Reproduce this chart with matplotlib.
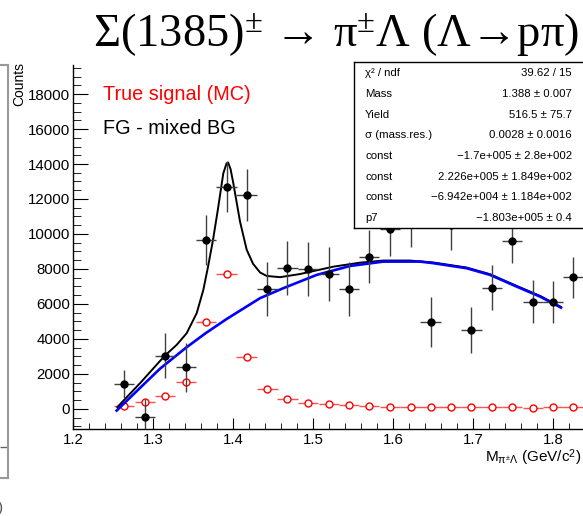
import numpy as np
import matplotlib
matplotlib.use("Agg")
import matplotlib.pyplot as plt
from matplotlib.ticker import MultipleLocator, FormatStrFormatter

# bin centres (GeV/c^2)
mass = [1.264, 1.290, 1.315, 1.341, 1.366, 1.392, 1.417, 1.443, 1.468, 1.494,
        1.520, 1.545, 1.570, 1.596, 1.622, 1.647, 1.672, 1.698, 1.724, 1.749,
        1.775, 1.800, 1.825]
half_bin = 0.0128

# FG - mixed BG
fg_counts = [1430, -440, 3040, 2370, 9650, 12700, 12230, 6840, 8030, 7980,
             7700, 6840, 8700, 10270, 10760, 4950, 10500, 4510, 6930, 9620,
             6130, 6130, 7520]
fg_err = [800, 1030, 1300, 1380, 1450, 1460, 1490, 1540, 1540, 1540,
          1540, 1540, 1510, 1520, 1500, 1430, 1430, 1330, 1300, 1260,
          1220, 1200, 1160]

# true signal (MC)
mc_counts = [190, 380, 740, 1560, 4950, 7700, 2950, 1120, 550, 320,
             270, 210, 170, 130, 130, 130, 100, 110, 110, 110,
             40, 100, 100]

# background fit (blue)
bg_x = [1.2546, 1.2838, 1.3088, 1.3413, 1.3659, 1.3921, 1.4338, 1.4629, 1.5046,
        1.5463, 1.5879, 1.6338, 1.6504, 1.6921, 1.7213, 1.7546, 1.7838, 1.810]
bg_y = [-97, 1200, 2300, 3500, 4330, 5140, 6330, 6900, 7660,
        8170, 8420, 8420, 8330, 8040, 7660, 6990, 6420, 5790]

# total fit (black)
fit_x = [1.2554, 1.2838, 1.3088, 1.3150, 1.3296, 1.3420, 1.3546, 1.3629, 1.3688,
         1.3750, 1.3810, 1.3879, 1.3920, 1.3940, 1.3970, 1.4004, 1.4088, 1.4171,
         1.4250, 1.4338, 1.4421, 1.4588, 1.4838, 1.5254, 1.5588, 1.5879, 1.6213,
         1.6504, 1.6921, 1.7213, 1.7546, 1.7838, 1.810]
fit_y = [100, 1470, 2740, 3050, 3660, 4320, 5470, 6800, 8130,
         9660, 11370, 13470, 14040, 14080, 13700, 12900, 10700, 9100,
         8300, 7800, 7600, 7530, 7710, 8130, 8360, 8480, 8480,
         8370, 8080, 7700, 7030, 6460, 5830]

stat_names = ["χ² / ndf", "Mass", "Yield", "σ (mass.res.)", "const", "const", "const", "p7"]
stat_values = ["39.62 / 15", "1.388 ± 0.007", "516.5 ± 75.7", "0.0028 ± 0.0016",
               "\u22121.7e+005 ± 2.8e+002", "2.226e+005 ± 1.849e+002",
               "\u22126.942e+004 ± 1.184e+002", "\u22121.803e+005 ± 0.4"]

plt.rcParams['font.family'] = ['Liberation Sans', 'DejaVu Sans']
plt.rcParams['mathtext.fontset'] = 'custom'
plt.rcParams['mathtext.rm'] = 'Liberation Serif'
plt.rcParams['mathtext.it'] = 'Liberation Serif'
plt.rcParams['mathtext.sf'] = 'Liberation Sans'

W, H = 583, 516
fig = plt.figure(figsize=(W / 100, H / 100), dpi=100)

# main pad
ax = fig.add_axes([73 / W, 1 - 429 / H, 516 / W, 364 / H])
ax.errorbar(mass, mc_counts, xerr=half_bin, fmt='o', mfc='white', mec='red',
            ecolor='#ff5050', ms=5, mew=1, elinewidth=1, zorder=2)
ax.plot(fit_x, fit_y, color='black', lw=1.4, zorder=3)
ax.plot(bg_x, bg_y, color='#0000ff', lw=1.9, zorder=4)
ax.errorbar(mass, fg_counts, xerr=half_bin, yerr=fg_err, fmt='o', color='black',
            ecolor='#404040', ms=5, elinewidth=1, capsize=0, zorder=5)

ax.set_xlim(1.2, 1.845)
ax.set_ylim(-1150, 19660)
for s in ['top', 'right']:
    ax.spines[s].set_visible(False)
for s in ['left', 'bottom']:
    ax.spines[s].set_linewidth(1)
ax.xaxis.set_major_locator(MultipleLocator(0.1))
ax.xaxis.set_minor_locator(MultipleLocator(0.02))
ax.xaxis.set_major_formatter(FormatStrFormatter('%.1f'))
ax.yaxis.set_major_locator(MultipleLocator(2000))
ax.yaxis.set_minor_locator(MultipleLocator(500))
ax.tick_params(axis='both', which='both', direction='in', labelsize=10.8)
ax.tick_params(axis='y', which='major', length=11, pad=2)
ax.tick_params(axis='y', which='minor', length=5.8)
ax.tick_params(axis='x', which='major', length=8, pad=3)
ax.tick_params(axis='x', which='minor', length=4.3)

fig.text(19 / W, 1 - 62 / H, "Counts", rotation=90, ha='center', va='top', fontsize=10)
fig.text(581 / W, 1 - 462 / H, r"M$_{\mathsf{\pi^{\pm}\Lambda}}$ (GeV/c$^{\mathsf{2}}$)",
         ha='right', va='baseline', fontsize=11)

fig.text(103 / W, 1 - 95 / H, "True signal (MC)", color='red', fontsize=14.3, va='center')
fig.text(103 / W, 1 - 128 / H, "FG - mixed BG", color='black', fontsize=14.3, va='center')

title = fig.text(93 / W, 1 - 47 / H, "Σ(1385)$^{\\pm}$ → π$^{\\pm}$Λ (Λ→pπ)",
                 fontfamily='Liberation Serif', fontsize=32, va='baseline', ha='left')
fig.canvas.draw()
tw = title.get_window_extent().width
title.set_fontsize(32 * 487 / tw)

# stats box
box = fig.add_axes([354 / W, 1 - 228 / H, 246 / W, 166 / H], zorder=10)
box.set_xticks([])
box.set_yticks([])
box.set_facecolor('white')
for s in box.spines.values():
    s.set_linewidth(1)
for i, (name, val) in enumerate(zip(stat_names, stat_values)):
    yc = 1 - (73.5 + 20.6 * i - 62) / 166
    box.text((365 - 354) / 246, yc, name, fontsize=8.2, va='center', ha='left', transform=box.transAxes)
    box.text((572 - 354) / 246, yc, val, fontsize=8.2, va='center', ha='right', transform=box.transAxes)

# edge of neighbouring pad
left = fig.add_axes([-0.3, 1 - 478 / H, 0.3 + 7.5 / W, 413 / H])
left.set_xticks([])
left.set_ylim(0, 1)
left.yaxis.tick_right()
left.set_yticks([31 / 413])
left.set_yticklabels([])
left.tick_params(axis='y', direction='in', length=5.5, width=1, color='#666666')
left.patch.set_alpha(0)
for s in left.spines.values():
    s.set_color('#999999')
    s.set_linewidth(1.5)
fig.text(-0.004, 1 - 512 / H, ")", fontsize=11, color='#555555')

fig.savefig("out.png", dpi=100)
